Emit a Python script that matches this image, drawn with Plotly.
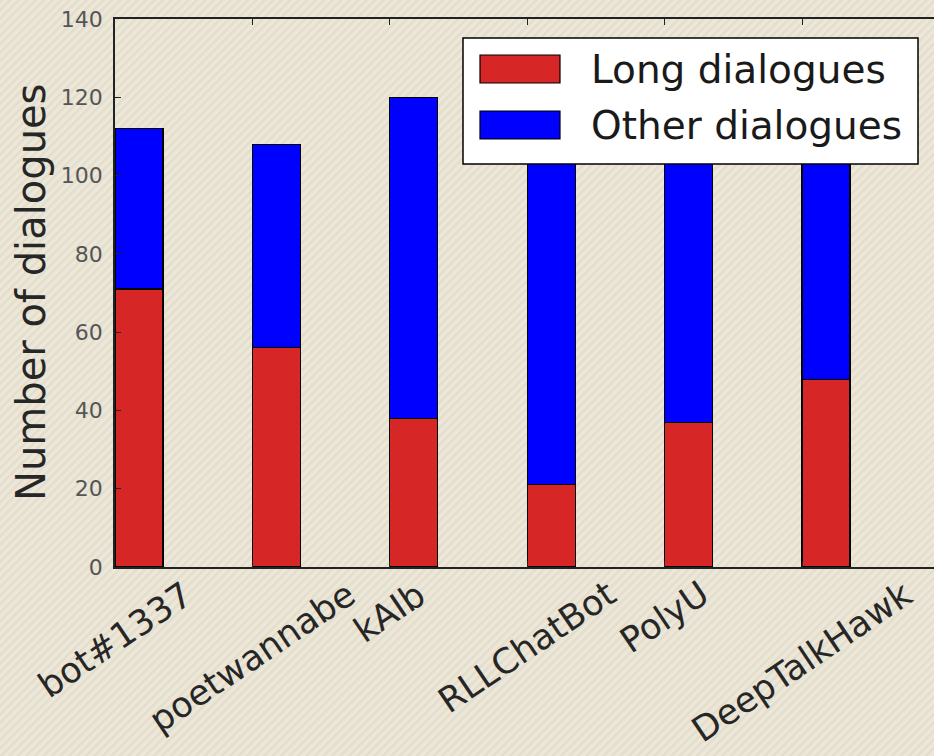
import base64
import plotly.graph_objects as go

# ---------------- data ----------------
bots = ["bot#1337", "poetwannabe", "kAIb", "RLLChatBot", "PolyU", "DeepTalkHawk"]
long_dialogues = [71, 56, 38, 21, 37, 48]
other_dialogues = [41, 52, 82, 98, 76, 66]
series_names = ["Long dialogues", "Other dialogues"]
y_ticks = [0, 20, 40, 60, 80, 100, 120, 140]

# ---------------- style ----------------
W, H = 934, 756
ML, MR, MT, MB = 115, 0, 19, 189
PW, PH = W - ML - MR, H - MT - MB
RED = "#d62626"
BLUE = "#0000ff"
FONT = "DejaVu Sans"
BAR_W = 0.35


def px_x(p):
    return (p - ML) / PW


def px_y(p):
    return (H - MB - p) / PH


positions = list(range(len(bots)))

fig = go.Figure()
fig.add_trace(go.Bar(x=positions, y=long_dialogues, name=series_names[0],
                     width=BAR_W, offset=0, marker_color=RED,
                     marker_line=dict(color="black", width=1.2), showlegend=False))
fig.add_trace(go.Bar(x=positions, y=other_dialogues, name=series_names[1],
                     width=BAR_W, offset=0, marker_color=BLUE,
                     marker_line=dict(color="black", width=1.2), showlegend=False))

# hatched beige background
svg = (
    f'<svg xmlns="http://www.w3.org/2000/svg" width="{W}" height="{H}" preserveAspectRatio="none">'
    '<defs><pattern id="h" width="6" height="6" patternUnits="userSpaceOnUse" patternTransform="rotate(45)">'
    '<rect width="6" height="6" fill="#ece7d8"/>'
    '<rect width="2.5" height="6" fill="#e3ddcc"/>'
    '</pattern></defs>'
    f'<rect width="{W}" height="{H}" fill="url(#h)"/></svg>'
)
src = "data:image/svg+xml;base64," + base64.b64encode(svg.encode()).decode()
fig.add_layout_image(dict(source=src, xref="paper", yref="paper",
                          x=px_x(0), y=px_y(0), sizex=W / PW, sizey=H / PH,
                          xanchor="left", yanchor="top", sizing="stretch",
                          layer="below"))

# rotated category labels (centered under their ticks, like matplotlib)
for p, name in zip(positions, bots):
    fig.add_annotation(x=p, y=0, xref="x", yref="paper", text=name,
                       textangle=-34, showarrow=False, xanchor="center",
                       yanchor="top", yshift=-4,
                       font=dict(family=FONT, size=35, color="#262626"))

# y-axis title
fig.add_annotation(x=px_x(31), y=0.5, xref="paper", yref="paper",
                   text="Number of dialogues", textangle=-90, showarrow=False,
                   xanchor="center", yanchor="middle",
                   font=dict(family=FONT, size=40, color="#262626"))

# legend (drawn as box + handles + text)
lx0, lx1, ly0, ly1 = 463, 918, 38, 164
fig.add_shape(type="rect", xref="paper", yref="paper",
              x0=px_x(lx0), x1=px_x(lx1), y0=px_y(ly1), y1=px_y(ly0),
              fillcolor="white", line=dict(color="black", width=1.5), layer="above")
for (hy0, hy1), col, name in [((55, 83), RED, series_names[0]),
                              ((111, 139), BLUE, series_names[1])]:
    fig.add_shape(type="rect", xref="paper", yref="paper",
                  x0=px_x(480), x1=px_x(560), y0=px_y(hy1), y1=px_y(hy0),
                  fillcolor=col, line=dict(color="black", width=1.2), layer="above")
    fig.add_annotation(x=px_x(589), y=px_y((hy0 + hy1) / 2), xref="paper", yref="paper",
                       text=name, showarrow=False, xanchor="left", yanchor="middle",
                       font=dict(family=FONT, size=39, color="#1a1a1a"))

fig.update_layout(
    width=W, height=H,
    margin=dict(l=ML, r=MR, t=MT, b=MB, pad=0),
    barmode="stack",
    paper_bgcolor="#ece7d8",
    plot_bgcolor="white",
    font=dict(family=FONT),
    xaxis=dict(range=[0, PW / 137.4], tickvals=positions, showticklabels=False,
               ticks="inside", ticklen=6, tickcolor="#222", showgrid=False,
               zeroline=False, showline=True, linecolor="#222", linewidth=1.5,
               mirror="ticks"),
    yaxis=dict(range=[0, 140], tickvals=y_ticks, ticks="inside", ticklen=6,
               tickcolor="#222", showgrid=False, zeroline=False, showline=True,
               linecolor="#222", linewidth=1.5, ticklabelstandoff=6,
               tickfont=dict(family=FONT, size=22, color="#555")),
    yaxis2=dict(range=[0, 140], tickvals=y_ticks, overlaying="y", side="right",
                ticks="inside", ticklen=6, tickcolor="#222", showticklabels=False,
                showgrid=False, zeroline=False, showline=False),
)

fig.write_html("out.html",
               config={"displayModeBar": False},
               post_script="document.body.style.margin='0';"
                           "document.body.style.overflow='hidden';")
